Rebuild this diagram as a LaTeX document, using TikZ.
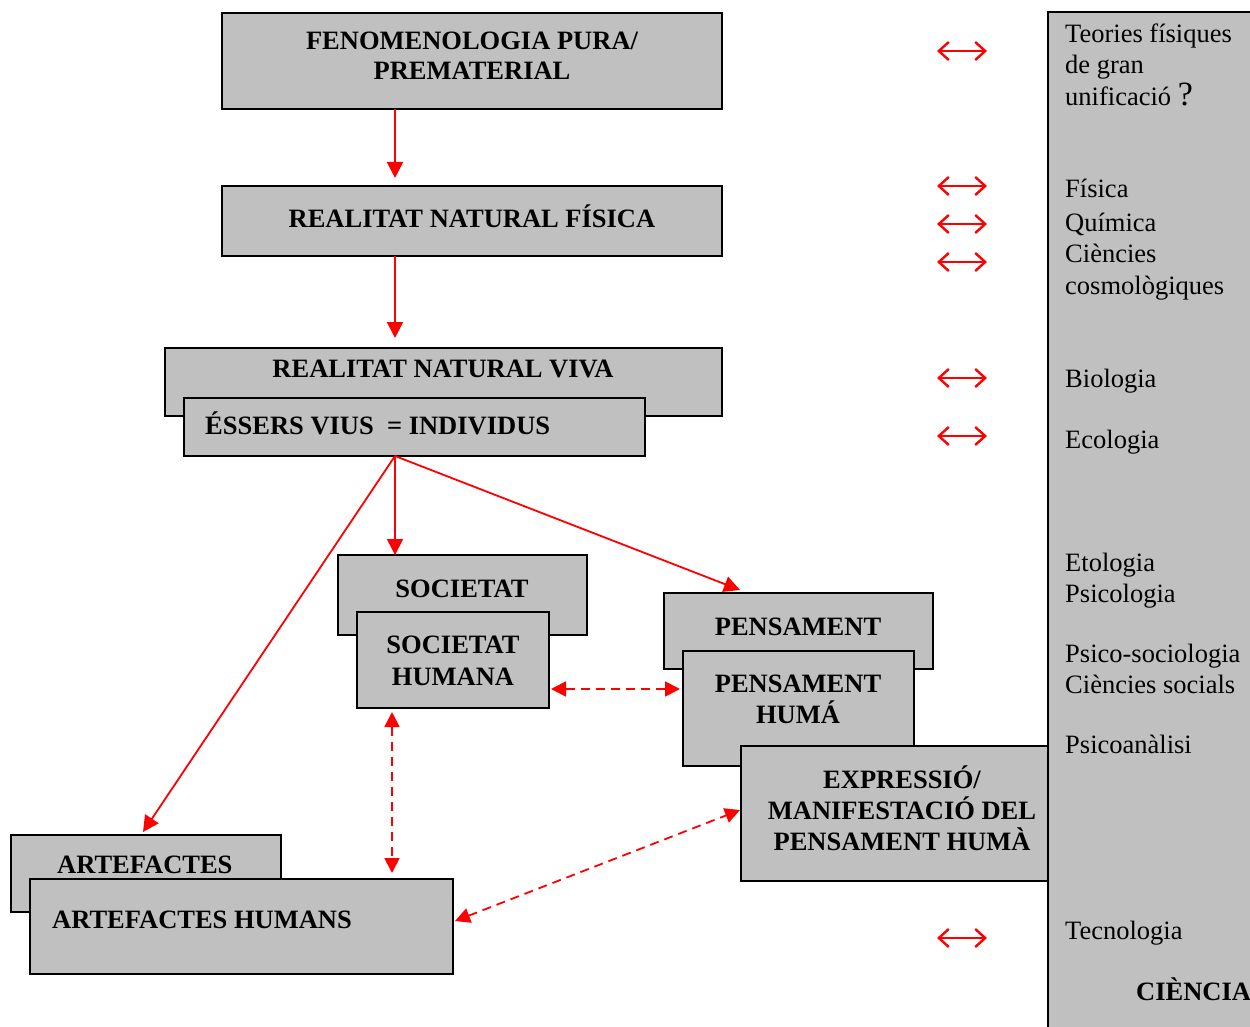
\documentclass[tikz,border=0pt]{standalone}
\usepackage{fontspec}
\setmainfont{Liberation Serif}
\usetikzlibrary{arrows.meta}
\definecolor{boxgray}{HTML}{C0C0C0}
\definecolor{arrred}{HTML}{FF0000}
\begin{document}
\begin{tikzpicture}[x=1pt,y=-1pt,
  box/.style={draw=black, line width=2pt, fill=boxgray, rectangle, inner sep=0pt, outer sep=0pt, anchor=north west},
  bt/.style={font=\bfseries\fontsize{26.5}{31}\selectfont, anchor=base, inner sep=0pt},
  btl/.style={font=\bfseries\fontsize{26.5}{31}\selectfont, anchor=base west, inner sep=0pt},
  rt/.style={font=\fontsize{26.5}{31}\selectfont, anchor=base west, inner sep=0pt},
  flow/.style={draw=arrred, line width=1.8pt, -{Triangle[length=16pt,width=16pt]}},
  link/.style={draw=arrred, line width=1.8pt, dash pattern=on 9pt off 6pt,
    {Triangle[length=15pt,width=15pt]}-{Triangle[length=15pt,width=15pt]}},
  rel/.style={draw=arrred, line width=2.4pt,
    {Straight Barb[length=10pt,width=18pt]}-{Straight Barb[length=10pt,width=18pt]}}]
\useasboundingbox (0,0) rectangle (1250,1027);

% right panel
\node[draw=none, fill=boxgray, rectangle, inner sep=0pt, outer sep=0pt, anchor=north west,
  minimum width=210, minimum height=1030] (panel) at (1048,12) {};
\draw[line width=2pt] (panel.south west) -- (panel.north west) -- (panel.north east);

% boxes
\node[box, minimum width=500, minimum height=96] (fen) at (222,13) {};
\node[bt] (fen1) at (472,50) {FENOMENOLOGIA PURA/};
\node[bt] (fen2) at (472,80) {PREMATERIAL};

\node[box, minimum width=500, minimum height=70] (fis) at (222,186) {};
\node[bt] (fis1) at (472,227) {REALITAT NATURAL FÍSICA};

\node[box, minimum width=557, minimum height=68] (viva) at (165,348) {};
\node[bt] (viva1) at (443,377) {REALITAT NATURAL VIVA};
\node[box, minimum width=461, minimum height=58] (ess) at (184,398) {};
\node[btl] (ess1) at (205,434) {ÉSSERS VIUS \ = INDIVIDUS};

\node[box, minimum width=249, minimum height=80] (soc) at (338,555) {};
\node[bt] (soc1) at (462,597) {SOCIETAT};
\node[box, minimum width=192, minimum height=96] (sh) at (357,612) {};
\node[bt] (sh1) at (453,653) {SOCIETAT};
\node[bt] (sh2) at (453,685) {HUMANA};

\node[box, minimum width=269, minimum height=76] (pen) at (664,593) {};
\node[bt] (pen1) at (798,635) {PENSAMENT};
\node[box, minimum width=231, minimum height=115] (ph) at (683,651) {};
\node[bt] (ph1) at (798,692) {PENSAMENT};
\node[bt] (ph2) at (798,723) {HUMÁ};
\node[box, minimum width=307, minimum height=135] (exp) at (741,746) {};
\node[bt] (exp1) at (902,788) {EXPRESSIÓ/};
\node[bt] (exp2) at (902,819) {MANIFESTACIÓ DEL};
\node[bt] (exp3) at (902,850) {PENSAMENT HUMÀ};

\node[box, minimum width=270, minimum height=77] (art) at (11,835) {};
\node[btl] (art1) at (57,873) {ARTEFACTES};
\node[box, minimum width=423, minimum height=95] (ah) at (30,879) {};
\node[btl] (ah1) at (52,928) {ARTEFACTES HUMANS};

% flow arrows
\draw[flow] ([xshift=173]fen.south west) -- ([xshift=173,yshift=8]fis.north west);
\draw[flow] ([xshift=173]fis.south west) -- ([xshift=230,yshift=10]viva.north west);
\coordinate (src) at ([xshift=211]ess.south west);
\draw[flow] (src) -- ([xshift=57]soc.north west);
\draw[flow] (src) -- ([xshift=76,yshift=3]pen.north west);
\draw[flow] (src) -- ([xshift=132,yshift=3]art.north west);

% dashed links
\draw[link] ([xshift=2,yshift=19]sh.south east) -- ([xshift=-3,yshift=-38]ph.north west);
\draw[link] ([xshift=35,yshift=-4]sh.south west) -- ([xshift=362,yshift=6]ah.north west);
\draw[link] ([xshift=2,yshift=-42]ah.north east) -- ([xshift=-1,yshift=-64]exp.north west);

% relation arrows
\foreach \i/\yy in {1/51,2/186,3/224,4/262,5/378,6/436,7/938}{
  \coordinate (rl\i) at (937,\yy);
  \coordinate (rr\i) at (987,\yy);
  \draw[rel] (rl\i) -- (rr\i);
}

% right panel texts
\node[rt] (t1) at (1065,43) {Teories físiques};
\node[rt] (t2) at (1065,74) {de gran};
\node[rt] (t3) at (1065,106) {unificació {\fontsize{34}{34}\selectfont ?}};
\node[rt] (t4) at (1065,198) {Física};
\node[rt] (t5) at (1065,231) {Química};
\node[rt] (t6) at (1065,262) {Ciències};
\node[rt] (t7) at (1065,294) {cosmològiques};
\node[rt] (t8) at (1065,387) {Biologia};
\node[rt] (t9) at (1065,448) {Ecologia};
\node[rt] (t10) at (1065,571) {Etologia};
\node[rt] (t11) at (1065,602) {Psicologia};
\node[rt] (t12) at (1065,662) {Psico-sociologia};
\node[rt] (t13) at (1065,693) {Ciències socials};
\node[rt] (t14) at (1065,753) {Psicoanàlisi};
\node[rt] (t15) at (1065,939) {Tecnologia};
\node[btl] (t16) at (1136,1000) {CIÈNCIA};
\end{tikzpicture}
\end{document}
